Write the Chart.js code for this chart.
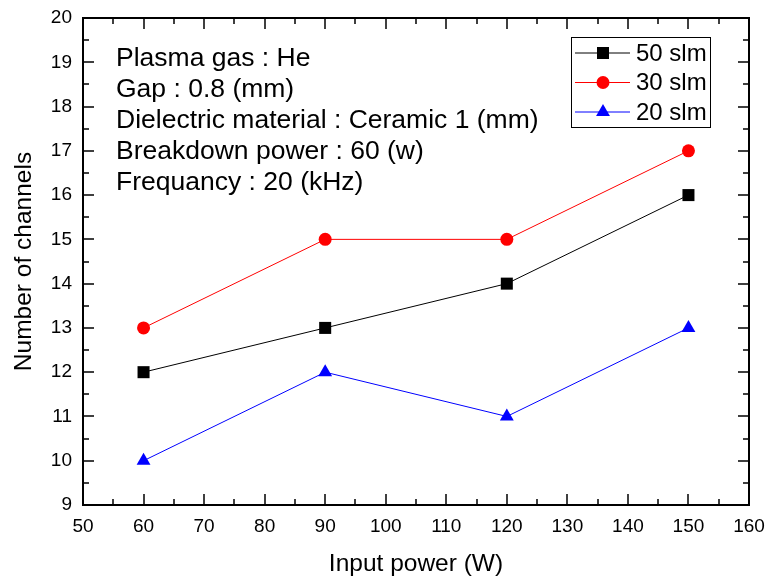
<!DOCTYPE html>
<html>
<head>
<meta charset="utf-8">
<script src="https://cdn.jsdelivr.net/npm/chart.js@4/dist/chart.umd.min.js"></script>
<style>
  html, body { margin: 0; padding: 0; background: #fff; }
  #wrap { width: 768px; height: 583px; }
</style>
</head>
<body>
<div id="wrap"><canvas id="chart" width="768" height="583"></canvas></div>
<script>
// input power (W)
const power = [60, 90, 120, 150];
// number of channels for each gas flow
const flow50 = [12, 13, 14, 16];
const flow30 = [13, 15, 15, 17];
const flow20 = [10, 12, 11, 13];

const seriesLabels = ['50 slm', '30 slm', '20 slm'];
const noteLines = [
    'Plasma gas : He',
    'Gap : 0.8 (mm)',
    'Dielectric material : Ceramic 1 (mm)',
    'Breakdown power : 60 (w)',
    'Frequancy : 20 (kHz)'
];

const FONT = '"Liberation Sans", Arial, sans-serif';

function pts(ys) {
    return power.map((x, i) => ({ x: x, y: ys[i] }));
}

// frame, inward ticks, note text and legend box
const framePlugin = {
    id: 'frame',
    afterDraw(chart) {
        const ctx = chart.ctx;
        const a = chart.chartArea;
        const xs = chart.scales.x, ys = chart.scales.y;
        ctx.save();
        ctx.strokeStyle = '#000';
        ctx.lineWidth = 2;
        ctx.strokeRect(a.left, a.top, a.right - a.left, a.bottom - a.top);
        ctx.lineWidth = 1.5;
        ctx.beginPath();
        for (let v = 50; v <= 160; v += 5) {
            const px = Math.round(xs.getPixelForValue(v));
            const len = v % 10 === 0 ? 11 : 6;
            ctx.moveTo(px, a.bottom); ctx.lineTo(px, a.bottom - len);
            ctx.moveTo(px, a.top); ctx.lineTo(px, a.top + len);
        }
        for (let v = 9; v <= 20; v += 0.5) {
            const py = Math.round(ys.getPixelForValue(v));
            const len = Number.isInteger(v) ? 11 : 6;
            ctx.moveTo(a.left, py); ctx.lineTo(a.left + len, py);
            ctx.moveTo(a.right, py); ctx.lineTo(a.right - len, py);
        }
        ctx.stroke();

        // notes
        ctx.fillStyle = '#000';
        ctx.font = '26.5px ' + FONT;
        ctx.textBaseline = 'middle';
        ctx.textAlign = 'left';
        noteLines.forEach((t, i) => ctx.fillText(t, 116, 59 + i * 31));

        // legend
        ctx.lineWidth = 1;
        ctx.strokeStyle = '#000';
        ctx.strokeRect(571.5, 37.5, 139, 90);
        chart.data.datasets.forEach((ds, i) => {
            const y = 53 + i * 29.5;
            ctx.strokeStyle = ds.borderColor;
            ctx.lineWidth = 1;
            ctx.beginPath();
            ctx.moveTo(575, y); ctx.lineTo(630, y);
            ctx.stroke();
            ctx.fillStyle = ds.pointBackgroundColor;
            Chart.helpers.drawPoint(ctx, {
                pointStyle: ds.pointStyle, radius: ds.pointRadius, borderWidth: 0
            }, 603, y);
            ctx.fillStyle = '#000';
            ctx.font = '24px ' + FONT;
            ctx.fillText(ds.label, 636, y + 1);
        });
        ctx.restore();
    }
};

new Chart(document.getElementById('chart'), {
    type: 'line',
    data: {
        datasets: [
            { label: seriesLabels[0], data: pts(flow50), borderColor: '#000000', pointBackgroundColor: '#000000', pointStyle: 'rect', pointRadius: 8.5 },
            { label: seriesLabels[1], data: pts(flow30), borderColor: '#ff0000', pointBackgroundColor: '#ff0000', pointStyle: 'circle', pointRadius: 6.5 },
            { label: seriesLabels[2], data: pts(flow20), borderColor: '#0000ff', pointBackgroundColor: '#0000ff', pointStyle: 'triangle', pointRadius: 8 }
        ].map(d => Object.assign(d, { borderWidth: 1, pointBorderWidth: 0, tension: 0, fill: false }))
    },
    options: {
        responsive: false,
        animation: false,
        layout: { padding: { top: 18, right: 19, left: 0, bottom: 0 } },
        plugins: { legend: { display: false }, tooltip: { enabled: false } },
        scales: {
            x: {
                type: 'linear', min: 50, max: 160,
                grid: { display: false, drawTicks: false },
                border: { display: false },
                ticks: { stepSize: 10, color: '#000', padding: 10, font: { family: FONT, size: 19 }, maxRotation: 0 },
                title: { display: true, text: 'Input power (W)', color: '#000', font: { family: FONT, size: 24.5 }, padding: { top: 2 } },
                afterFit: s => { s.height = 78; s.paddingLeft = 0; s.paddingRight = 0; }
            },
            y: {
                min: 9, max: 20,
                grid: { display: false, drawTicks: false },
                border: { display: false },
                ticks: { stepSize: 1, color: '#000', padding: 11, font: { family: FONT, size: 19 } },
                title: { display: true, text: 'Number of channels', color: '#000', font: { family: FONT, size: 24.5 }, padding: { bottom: 0, top: 10 } },
                afterFit: s => { s.width = 83; s.paddingTop = 0; s.paddingBottom = 0; }
            }
        }
    },
    plugins: [framePlugin]
});
</script>
</body>
</html>
